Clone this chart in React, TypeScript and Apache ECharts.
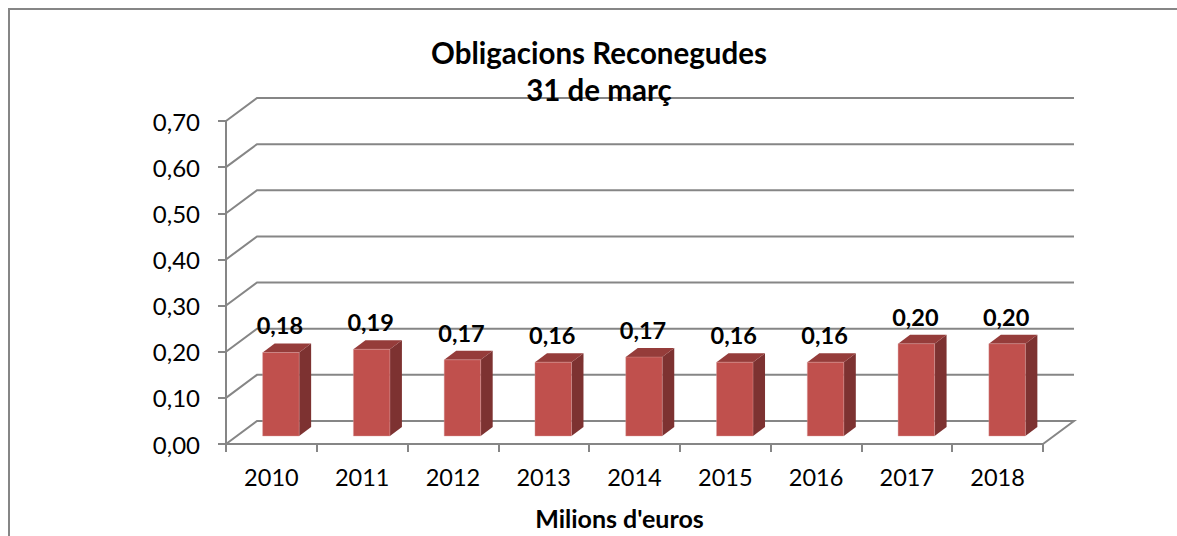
import React, { useEffect, useRef } from "react";
import * as echarts from "echarts";

const categories = ["2010", "2011", "2012", "2013", "2014", "2015", "2016", "2017", "2018"];
const obligacions = [0.181, 0.188, 0.165, 0.16, 0.171, 0.16, 0.16, 0.2, 0.2];
const yTicks = [0, 0.1, 0.2, 0.3, 0.4, 0.5, 0.6, 0.7];

const FONT = "Lato, 'Open Sans', sans-serif";
const GRAY = "#868686";
const comma = (v: number) => v.toFixed(2).replace(".", ",");

export default function App() {
  const ref = useRef<HTMLDivElement>(null);
  useEffect(() => {
    const chart = echarts.init(ref.current!, undefined, { renderer: "svg" });
    const DX = 31, DY = -23; // wall depth
    const BX = 9.5, BY = -8; // bar set-back
    const SX = 12, SY = -9; // bar depth
    chart.setOption({
      animation: false,
      backgroundColor: "#fff",
      title: {
        text: "Obligacions Reconegudes\n31 de març",
        left: 594,
        top: 29,
        textAlign: "center",
        textStyle: { fontFamily: FONT, fontWeight: "bold", fontSize: 29.5, lineHeight: 37, color: "#000" },
        z: 20,
      },
      graphic: [
        {
          type: "rect",
          shape: { x: 9, y: 9, width: 1300, height: 700 },
          style: { fill: "none", stroke: GRAY, lineWidth: 2 },
          silent: true,
        },
      ],
      grid: { left: 226, top: 121, width: 817, height: 323, outerBoundsMode: "none" },
      xAxis: {
        type: "category",
        data: categories,
        axisLine: { lineStyle: { color: GRAY, width: 2 } },
        axisTick: { show: true, length: 8, lineStyle: { color: GRAY, width: 2 }, alignWithLabel: false },
        axisLabel: { fontFamily: FONT, fontSize: 23.5, color: "#000", margin: 21 },
        splitLine: { show: false },
        name: "Milions d'euros",
        nameLocation: "middle",
        nameGap: 61,
        nameTextStyle: { fontFamily: FONT, fontSize: 25, fontWeight: "bold", color: "#000", padding: [0, 30, 0, 0] },
      },
      yAxis: {
        type: "value",
        min: 0,
        max: 0.7,
        interval: 0.1,
        axisLine: { show: true, lineStyle: { color: GRAY, width: 2 } },
        axisTick: { show: true, length: 8, lineStyle: { color: GRAY, width: 2 } },
        axisLabel: { fontFamily: FONT, fontSize: 24, color: "#000", margin: 26, formatter: (v: number) => comma(v) },
        splitLine: { show: false },
      },
      series: [
        {
          type: "custom",
          name: "parets",
          coordinateSystem: "cartesian2d",
          clip: false,
          z: 1,
          silent: true,
          data: yTicks.map((t) => [0, t]),
          encode: { x: 0, y: 1 },
          renderItem: (params: any, api: any) => {
            const v = api.value(1);
            const [, y] = api.coord([0, v]);
            const start = api.coord([0, 0]);
            const band = api.size([1, 0])[0];
            const x0 = start[0] - band / 2;
            const x1 = x0 + band * categories.length;
            const pts: number[][] = [
              [x0, y],
              [x0 + DX, y + DY],
              [x1 + DX, y + DY],
            ];
            if (v === 0) pts.push([x1, y]);
            return {
              type: "polyline",
              shape: { points: pts },
              style: { fill: "none", stroke: GRAY, lineWidth: 2 },
            };
          },
        },
        {
          type: "custom",
          name: "Obligacions Reconegudes",
          coordinateSystem: "cartesian2d",
          clip: false,
          z: 5,
          data: obligacions.map((v, i) => [i, v]),
          encode: { x: 0, y: 1 },
          renderItem: (params: any, api: any) => {
            const v = api.value(1);
            const top = api.coord([api.value(0), v]);
            const base = api.coord([api.value(0), 0]);
            const w = 36.5;
            const l = top[0] + BX - w / 2;
            const r = l + w;
            const t = top[1] + BY;
            const b = base[1] + BY;
            return {
              type: "group",
              children: [
                {
                  type: "polygon",
                  shape: { points: [[r, t], [r + SX, t + SY], [r + SX, b + SY], [r, b]] },
                  style: { fill: "#7D3231" },
                },
                {
                  type: "polygon",
                  shape: { points: [[l, t], [l + SX, t + SY], [r + SX, t + SY], [r, t]] },
                  style: { fill: "#953C3A" },
                },
                {
                  type: "rect",
                  shape: { x: l, y: t, width: w, height: b - t },
                  style: { fill: "#C0504D", stroke: "#D9A09E", lineWidth: 0.4 },
                },
                {
                  type: "text",
                  x: l + w / 2 - 1,
                  y: t - 27,
                  style: {
                    text: comma(v),
                    align: "center",
                    verticalAlign: "middle",
                    fontFamily: FONT,
                    fontWeight: "bold",
                    fontSize: 23.5,
                    fill: "#000",
                  },
                },
              ],
            };
          },
        },
      ],
    });
    return () => chart.dispose();
  }, []);
  return <div ref={ref} style={{ position: "fixed", left: 0, top: 0, width: 1177, height: 536 }} />;
}
